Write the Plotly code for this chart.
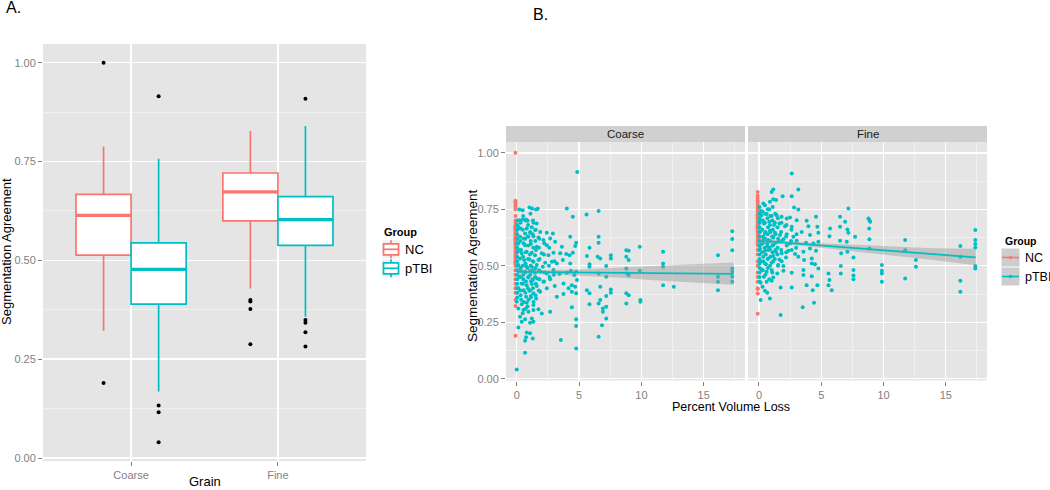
import plotly.graph_objects as go

W, H = 1050, 490

# ---------------- Panel A data (box statistics) ----------------
grains = ["Coarse", "Fine"]
groups = ["NC", "pTBI"]
colors = {"NC": "#F8766D", "pTBI": "#00BFC4"}
box_q1 = {"NC": [0.513, 0.600], "pTBI": [0.389, 0.538]}
box_med = {"NC": [0.614, 0.673], "pTBI": [0.477, 0.603]}
box_q3 = {"NC": [0.667, 0.721], "pTBI": [0.544, 0.661]}
box_lo = {"NC": [0.322, 0.429], "pTBI": [0.168, 0.357]}
box_hi = {"NC": [0.788, 0.827], "pTBI": [0.757, 0.840]}
box_out = {
    "NC": [[1.00, 0.19], [0.400, 0.396, 0.377, 0.288]],
    "pTBI": [[0.915, 0.133, 0.116, 0.040], [0.909, 0.349, 0.342, 0.318, 0.282]],
}
y_ticks = [0.0, 0.25, 0.5, 0.75, 1.0]
y_ticklabels = ["0.00", "0.25", "0.50", "0.75", "1.00"]

# ---------------- Panel B data ----------------
nc_x = -0.1
nc_coarse_y = [1.00, 0.788, 0.78, 0.77, 0.76, 0.75, 0.72, 0.70, 0.69, 0.68, 0.675, 0.67,
               0.667, 0.665, 0.66, 0.655, 0.65, 0.645, 0.64, 0.63, 0.625, 0.62, 0.615,
               0.614, 0.61, 0.60, 0.59, 0.58, 0.57, 0.56, 0.55, 0.54, 0.53, 0.52, 0.515,
               0.51, 0.50, 0.48, 0.46, 0.44, 0.42, 0.40, 0.38, 0.35, 0.322, 0.19]
nc_fine_y = [0.827, 0.81, 0.80, 0.79, 0.78, 0.77, 0.76, 0.75, 0.74, 0.73, 0.725, 0.721,
             0.72, 0.715, 0.71, 0.70, 0.695, 0.69, 0.685, 0.68, 0.675, 0.673, 0.67, 0.665,
             0.66, 0.655, 0.65, 0.64, 0.63, 0.62, 0.61, 0.605, 0.60, 0.59, 0.57, 0.55,
             0.52, 0.50, 0.47, 0.45, 0.429, 0.40, 0.397, 0.377, 0.288]

coarse_pts = [
    (4.85, 0.915),
    (4.02, 0.754), (6.57, 0.743), (5.6, 0.727), (4.5, 0.717),
    (0.21, 0.749), (0.48, 0.746), (1.02, 0.758), (1.23, 0.754), (1.55, 0.749), (1.69, 0.752),
    (0.48, 0.705), (0.75, 0.705), (0.88, 0.699), (0.21, 0.702), (1.34, 0.69), (1.6, 0.687),
    (0.13, 0.673), (0.32, 0.665), (0.8, 0.665), (1.21, 0.67), (0.67, 0.643), (1.07, 0.646),
    (1.47, 0.658), (1.88, 0.65), (2.41, 0.646), (2.9, 0.643), (17.29, 0.653), (17.29, 0.618),
    (6.57, 0.628),
    (0.27, 0.628), (0.54, 0.621), (0.94, 0.628), (1.34, 0.631), (1.74, 0.625), (2.14, 0.614),
    (2.68, 0.621), (3.08, 0.606), (4.29, 0.628), (4.77, 0.602), (4.69, 0.587), (0.13, 0.599),
    (0.67, 0.591), (1.13, 0.596), (1.61, 0.584), (2.41, 0.591), (3.62, 0.584), (5.84, 0.58),
    (6.57, 0.602), (9.87, 0.584), (8.79, 0.569), (8.98, 0.566), (17.29, 0.569),
    (0.21, 0.569), (0.4, 0.555), (0.8, 0.562), (1.21, 0.558), (1.47, 0.547), (2.01, 0.555),
    (2.55, 0.547), (2.95, 0.558), (3.49, 0.555), (3.97, 0.552), (4.24, 0.547), (4.5, 0.558),
    (5.63, 0.543), (6.49, 0.54), (6.7, 0.532), (7.55, 0.547), (7.55, 0.532), (8.79, 0.54),
    (8.98, 0.525), (11.74, 0.562), (16.14, 0.547), (0.27, 0.532), (0.59, 0.525), (1.02, 0.528),
    (1.34, 0.518), (1.74, 0.525), (2.28, 0.513), (2.82, 0.518), (3.22, 0.51), (3.7, 0.525),
    (4.29, 0.51), (5.84, 0.507), (5.84, 0.496), (7.18, 0.499), (11.74, 0.51), (11.74, 0.496),
    (0.13, 0.503), (0.75, 0.499), (1.21, 0.496), (1.61, 0.503), (2.09, 0.496),
    (0.32, 0.481), (0.67, 0.473), (1.07, 0.478), (1.47, 0.469), (1.93, 0.473), (2.41, 0.466),
    (2.95, 0.481), (3.43, 0.463), (4.02, 0.469), (4.34, 0.478), (4.61, 0.459), (4.77, 0.473),
    (6.57, 0.466), (7.18, 0.451), (8.79, 0.488), (8.85, 0.466), (8.98, 0.459), (9.87, 0.478),
    (17.29, 0.488), (17.29, 0.473), (17.29, 0.451), (16.14, 0.451), (16.14, 0.429),
    (17.29, 0.429), (0.21, 0.451), (0.54, 0.44), (0.94, 0.448), (1.29, 0.437), (1.64, 0.444),
    (2.14, 0.429), (2.68, 0.44), (0.4, 0.422), (0.8, 0.414), (1.21, 0.419), (1.61, 0.41),
    (3.75, 0.422), (4.42, 0.414), (4.83, 0.437), (11.74, 0.414), (12.6, 0.407),
    (0.13, 0.4), (0.54, 0.392), (1.02, 0.389), (1.34, 0.378), (1.88, 0.385), (2.41, 0.4),
    (4.16, 0.4), (4.42, 0.385), (4.69, 0.407), (5.63, 0.392), (6.7, 0.407), (7.55, 0.395),
    (7.55, 0.381), (16.14, 0.392), (0.32, 0.37), (0.75, 0.363), (1.13, 0.366), (1.56, 0.355),
    (3.22, 0.363), (3.75, 0.375), (4.77, 0.378), (5.84, 0.378), (7.18, 0.366), (6.7, 0.348),
    (8.79, 0.378), (8.98, 0.37), (9.92, 0.348), (9.92, 0.341), (0.0, 0.341), (0.4, 0.33),
    (0.8, 0.336), (1.34, 0.326), (5.84, 0.33), (6.57, 0.333), (7.18, 0.319), (8.79, 0.333),
    (4.42, 0.316), (2.68, 0.296),
    (0.13, 0.311), (0.54, 0.304), (0.94, 0.296), (1.34, 0.304), (1.74, 0.307), (2.01, 0.289),
    (0.27, 0.274), (0.67, 0.263), (1.21, 0.267), (6.91, 0.311), (6.91, 0.296), (7.18, 0.267),
    (4.77, 0.263), (0.4, 0.252), (1.07, 0.248), (1.34, 0.252), (6.84, 0.237), (4.77, 0.233),
    (0.13, 0.227), (0.8, 0.204), (1.07, 0.201), (0.75, 0.183), (1.29, 0.178), (0.67, 0.168),
    (3.54, 0.171), (6.57, 0.186), (4.77, 0.134), (0.67, 0.115), (0.0, 0.041),
    (0.04, 0.70), (0.04, 0.68), (0.04, 0.66), (0.04, 0.64), (0.04, 0.62), (0.04, 0.60),
    (0.04, 0.58), (0.04, 0.56), (0.04, 0.54), (0.04, 0.52), (0.04, 0.50), (0.04, 0.48),
    (0.04, 0.46), (0.04, 0.44), (0.04, 0.42), (0.04, 0.40), (0.04, 0.38), (0.04, 0.36),
    (0.31, 0.69), (0.28, 0.61), (0.35, 0.57), (0.30, 0.49), (0.33, 0.45), (0.29, 0.39), (0.36, 0.35),
    (0.52, 0.72), (0.49, 0.66), (0.55, 0.60), (0.51, 0.54), (0.47, 0.50), (0.53, 0.46),
    (0.50, 0.42), (0.56, 0.34), (0.48, 0.29),
    (0.71, 0.70), (0.68, 0.62), (0.73, 0.56), (0.70, 0.51), (0.66, 0.47), (0.74, 0.43),
    (0.69, 0.38), (0.72, 0.31),
    (0.91, 0.68), (0.88, 0.63), (0.93, 0.59), (0.90, 0.53), (0.86, 0.49), (0.92, 0.45),
    (0.89, 0.40), (0.95, 0.35), (0.87, 0.32),
    (1.10, 0.73), (1.08, 0.65), (1.12, 0.61), (1.06, 0.55), (1.11, 0.50), (1.09, 0.46),
    (1.14, 0.43), (1.07, 0.39), (1.13, 0.36),
    (1.31, 0.70), (1.28, 0.64), (1.33, 0.58), (1.29, 0.52), (1.32, 0.48), (1.27, 0.44),
    (1.30, 0.40), (1.35, 0.34),
    (1.52, 0.66), (1.49, 0.61), (1.54, 0.57), (1.50, 0.49), (1.48, 0.45), (1.53, 0.42), (1.51, 0.37),
    (1.81, 0.62), (1.78, 0.58), (1.83, 0.53), (1.79, 0.48), (1.82, 0.44), (1.77, 0.39),
    (2.21, 0.60), (2.18, 0.55), (2.23, 0.47), (2.19, 0.43),
    (2.61, 0.58), (2.58, 0.50), (2.63, 0.45),
    (3.02, 0.52), (2.98, 0.46), (3.05, 0.41),
]

fine_pts = [
    (2.63, 0.909),
    (3.16, 0.838), (1.15, 0.838), (1.02, 0.827), (1.9, 0.808), (2.63, 0.808), (1.15, 0.794),
    (1.37, 0.791), (0.88, 0.783), (0.35, 0.776), (0.48, 0.768), (2.82, 0.758), (3.16, 0.749),
    (7.18, 0.754), (0.83, 0.749), (0.16, 0.743),
    (0.21, 0.724), (0.62, 0.729), (1.02, 0.72), (1.42, 0.724), (1.82, 0.717), (2.23, 0.709),
    (2.49, 0.714), (3.03, 0.702), (3.83, 0.699), (4.58, 0.717), (6.51, 0.717), (8.79, 0.709),
    (8.87, 0.702), (8.93, 0.695), (6.92, 0.695), (0.08, 0.702), (0.4, 0.687), (0.83, 0.695),
    (1.21, 0.68), (1.64, 0.687), (2.09, 0.675), (2.63, 0.673), (3.97, 0.675), (4.69, 0.673),
    (5.71, 0.665), (6.51, 0.673), (7.1, 0.661), (8.85, 0.665), (17.37, 0.658),
    (0.08, 0.65), (0.48, 0.643), (0.88, 0.655), (1.29, 0.646), (1.69, 0.636), (2.23, 0.64),
    (2.76, 0.628), (3.43, 0.65), (4.1, 0.636), (4.77, 0.646), (5.66, 0.631), (7.18, 0.646),
    (7.72, 0.628), (0.35, 0.621), (0.75, 0.614), (1.15, 0.625), (1.55, 0.606), (1.96, 0.617),
    (2.49, 0.599), (3.03, 0.611), (3.78, 0.602), (4.37, 0.599), (4.77, 0.606), (6.51, 0.611),
    (7.05, 0.606), (8.87, 0.617), (11.74, 0.614), (17.37, 0.614), (0.21, 0.596), (0.67, 0.587),
    (1.1, 0.591), (16.17, 0.587), (17.37, 0.596), (17.37, 0.581),
    (0.08, 0.577), (0.48, 0.566), (0.88, 0.572), (1.37, 0.562), (1.82, 0.555), (2.36, 0.566),
    (2.9, 0.552), (3.57, 0.562), (4.1, 0.577), (4.58, 0.566), (6.6, 0.555), (7.1, 0.562),
    (8.87, 0.577), (11.74, 0.569), (0.35, 0.54), (0.75, 0.532), (1.15, 0.543), (1.64, 0.528),
    (2.17, 0.537), (3.16, 0.54), (3.62, 0.525), (4.24, 0.532), (7.59, 0.537), (16.17, 0.54),
    (0.13, 0.518), (0.56, 0.507), (1.02, 0.513), (1.55, 0.503), (1.96, 0.499), (4.24, 0.51),
    (4.5, 0.507), (12.6, 0.525), (12.6, 0.496), (17.37, 0.499), (17.37, 0.488), (9.87, 0.503),
    (6.57, 0.499),
    (0.21, 0.484), (0.62, 0.473), (1.02, 0.481), (1.47, 0.466), (1.96, 0.478), (2.63, 0.469),
    (3.57, 0.481), (4.77, 0.488), (5.58, 0.466), (6.57, 0.466), (7.59, 0.481), (7.59, 0.457),
    (9.87, 0.478), (9.87, 0.466), (0.4, 0.451), (0.83, 0.44), (1.15, 0.448), (3.57, 0.459),
    (4.24, 0.454), (5.66, 0.437), (7.59, 0.44), (9.87, 0.429), (11.74, 0.444), (0.13, 0.425),
    (0.62, 0.429), (1.02, 0.434), (0.29, 0.407), (0.48, 0.389), (0.67, 0.381), (0.88, 0.355),
    (0.13, 0.348), (1.74, 0.404), (2.63, 0.404), (3.83, 0.414), (4.69, 0.414), (4.32, 0.392),
    (5.58, 0.414), (5.84, 0.392), (4.42, 0.336), (3.51, 0.316), (1.74, 0.282), (16.17, 0.434),
    (16.17, 0.385),
    (0.05, 0.76), (0.05, 0.73), (0.05, 0.71), (0.05, 0.69), (0.05, 0.67), (0.05, 0.65),
    (0.05, 0.63), (0.05, 0.61), (0.05, 0.59), (0.05, 0.57), (0.05, 0.55), (0.05, 0.53),
    (0.05, 0.51), (0.05, 0.49), (0.05, 0.47), (0.05, 0.45), (0.05, 0.43),
    (0.29, 0.74), (0.32, 0.70), (0.27, 0.66), (0.34, 0.63), (0.30, 0.60), (0.26, 0.56),
    (0.33, 0.52), (0.31, 0.48),
    (0.51, 0.73), (0.48, 0.69), (0.53, 0.65), (0.50, 0.62), (0.46, 0.58), (0.55, 0.55),
    (0.49, 0.51), (0.52, 0.46),
    (0.71, 0.75), (0.68, 0.71), (0.73, 0.67), (0.70, 0.64), (0.66, 0.60), (0.74, 0.57),
    (0.69, 0.53), (0.72, 0.49),
    (0.91, 0.72), (0.88, 0.68), (0.93, 0.65), (0.90, 0.61), (0.86, 0.58), (0.92, 0.54), (0.89, 0.50),
    (1.10, 0.76), (1.08, 0.70), (1.12, 0.66), (1.06, 0.63), (1.11, 0.59), (1.09, 0.56),
    (1.14, 0.52), (1.07, 0.47),
    (1.31, 0.73), (1.28, 0.69), (1.33, 0.64), (1.29, 0.60), (1.32, 0.57), (1.27, 0.53),
    (1.52, 0.71), (1.49, 0.67), (1.54, 0.62), (1.50, 0.58), (1.48, 0.55), (1.53, 0.50),
    (1.81, 0.69), (1.78, 0.65), (1.83, 0.61), (1.79, 0.57), (1.82, 0.52),
    (2.21, 0.68), (2.18, 0.63), (2.23, 0.59), (2.19, 0.56),
    (2.61, 0.66), (2.58, 0.61), (2.63, 0.57),
    (3.02, 0.64), (2.98, 0.58),
]

# linear fits with 95% bands
smooth_x = [0, 2, 5, 8, 11, 14, 17.4]
coarse_fit = [0.473, 0.472, 0.4705, 0.469, 0.4675, 0.466, 0.464]
coarse_lo = [0.460, 0.463, 0.457, 0.448, 0.436, 0.426, 0.416]
coarse_hi = [0.486, 0.481, 0.484, 0.490, 0.499, 0.507, 0.514]
fine_fit = [0.611, 0.6025, 0.590, 0.577, 0.564, 0.5515, 0.537]
fine_lo = [0.599, 0.595, 0.580, 0.562, 0.544, 0.525, 0.502]
fine_hi = [0.623, 0.610, 0.600, 0.592, 0.584, 0.578, 0.575]
x_ticks_b = [0, 5, 10, 15]

# ---------------- helpers ----------------
def fx(px):
    return px / W


def fy(py):
    return 1 - py / H


GREY_TXT = "#7F7F7F"
FONT = "Liberation Sans, Arial, sans-serif"
fig = go.Figure()

# ---------------- Panel A ----------------
cat_pos = list(range(len(grains)))
dodge = {"NC": -0.1875, "pTBI": 0.1875}
half_w = 0.1875
for g in groups:
    pos = [c + dodge[g] for c in cat_pos]
    fig.add_trace(go.Box(
        x=pos, q1=box_q1[g], median=box_med[g], q3=box_q3[g],
        lowerfence=box_lo[g], upperfence=box_hi[g],
        width=0.375, fillcolor="white", line=dict(color=colors[g], width=1.7),
        whiskerwidth=0, boxpoints=False, showlegend=False, hoverinfo="skip",
        xaxis="x", yaxis="y"))
    mx, my = [], []
    for p, m in zip(pos, box_med[g]):
        mx += [p - half_w, p + half_w, None]
        my += [m, m, None]
    fig.add_trace(go.Scatter(x=mx, y=my, mode="lines", line=dict(color=colors[g], width=3.2),
                             showlegend=False, hoverinfo="skip", xaxis="x", yaxis="y"))
    ox, oy = [], []
    for p, outs in zip(pos, box_out[g]):
        ox += [p] * len(outs)
        oy += outs
    fig.add_trace(go.Scatter(x=ox, y=oy, mode="markers", marker=dict(color="black", size=4),
                             showlegend=False, hoverinfo="skip", xaxis="x", yaxis="y"))

# ---------------- Panel B ----------------
panels = [
    ("x2", "y2", coarse_pts, nc_coarse_y, coarse_fit, coarse_lo, coarse_hi),
    ("x3", "y3", fine_pts, nc_fine_y, fine_fit, fine_lo, fine_hi),
]
for xa, ya, pts, ncy, fit, lo, hi in panels:
    fig.add_trace(go.Scatter(x=[nc_x] * len(ncy), y=ncy, mode="markers",
                             marker=dict(color=colors["NC"], size=4),
                             showlegend=False, hoverinfo="skip", xaxis=xa, yaxis=ya))
    fig.add_trace(go.Scatter(x=[p[0] for p in pts], y=[p[1] for p in pts], mode="markers",
                             marker=dict(color=colors["pTBI"], size=4),
                             showlegend=False, hoverinfo="skip", xaxis=xa, yaxis=ya))
    fig.add_trace(go.Scatter(x=smooth_x + smooth_x[::-1], y=hi + lo[::-1], fill="toself",
                             fillcolor="rgba(153,153,153,0.45)", line=dict(width=0),
                             mode="lines", showlegend=False, hoverinfo="skip", xaxis=xa, yaxis=ya))
    fig.add_trace(go.Scatter(x=smooth_x, y=fit, mode="lines",
                             line=dict(color=colors["pTBI"], width=1.8),
                             showlegend=False, hoverinfo="skip", xaxis=xa, yaxis=ya))

# ---------------- axes ----------------
common = dict(showline=False, zeroline=False, ticks="outside", ticklen=4, tickwidth=1,
              tickcolor=GREY_TXT, showgrid=True, gridcolor="white", gridwidth=1.4,
              tickfont=dict(family=FONT, size=11, color=GREY_TXT), fixedrange=True)
minor_y = dict(tickvals=[0.125, 0.375, 0.625, 0.875], showgrid=True, gridcolor="#F2F2F2",
               gridwidth=0.8, ticks="")
minor_xb = dict(tickvals=[2.5, 7.5, 12.5, 17.5], showgrid=True, gridcolor="#F2F2F2",
                gridwidth=0.8, ticks="")

layout_axes = dict(
    xaxis=dict(domain=[fx(43), fx(366)], range=[-0.6, 1.6], anchor="y",
               tickvals=cat_pos, ticktext=grains, **common),
    yaxis=dict(domain=[fy(461), fy(44)], range=[-0.0076, 1.0473], anchor="x",
               tickvals=y_ticks, ticktext=y_ticklabels, minor=minor_y, **common),
    xaxis2=dict(domain=[fx(506), fx(745)], range=[-0.86, 18.31], anchor="y2",
                tickvals=x_ticks_b, minor=minor_xb, **common),
    yaxis2=dict(domain=[fy(380.5), fy(142)], range=[-0.008, 1.048], anchor="x2",
                tickvals=y_ticks, ticktext=y_ticklabels, minor=minor_y, **common),
    xaxis3=dict(domain=[fx(748), fx(987)], range=[-0.88, 18.31], anchor="y3",
                tickvals=x_ticks_b, minor=minor_xb, **common),
    yaxis3=dict(domain=[fy(380.5), fy(142)], range=[-0.008, 1.048], anchor="x3",
                tickvals=y_ticks, minor=minor_y,
                **{**common, "ticks": "", "showticklabels": False}),
)

# ---------------- shapes (strips + manual legends) ----------------
shapes = []
for x0, x1 in [(506, 745), (748, 987)]:
    shapes.append(dict(type="rect", xref="paper", yref="paper", x0=fx(x0), x1=fx(x1),
                       y0=fy(142), y1=fy(126), fillcolor="#D0D0D0", line=dict(width=0),
                       layer="below"))

# legend A (box keys)
for g, cy in [("NC", 249.3), ("pTBI", 268.3)]:
    shapes.append(dict(type="rect", xref="paper", yref="paper", x0=fx(382), x1=fx(400),
                       y0=fy(cy + 9), y1=fy(cy - 9), fillcolor="#F2F2F2", line=dict(width=0)))
    shapes.append(dict(type="line", xref="paper", yref="paper", x0=fx(391), x1=fx(391),
                       y0=fy(cy + 9), y1=fy(cy - 9), line=dict(color=colors[g], width=1.7)))
    shapes.append(dict(type="rect", xref="paper", yref="paper", x0=fx(383.5), x1=fx(398.5),
                       y0=fy(cy + 5.5), y1=fy(cy - 5.5), fillcolor="white",
                       line=dict(color=colors[g], width=1.7)))
    shapes.append(dict(type="line", xref="paper", yref="paper", x0=fx(383.5), x1=fx(398.5),
                       y0=fy(cy), y1=fy(cy), line=dict(color=colors[g], width=1.7)))

# legend B (smooth keys)
for g, cy in [("NC", 257.5), ("pTBI", 276.5)]:
    shapes.append(dict(type="rect", xref="paper", yref="paper", x0=fx(1001.5), x1=fx(1019.5),
                       y0=fy(cy + 9), y1=fy(cy - 9), fillcolor="#CDCDCD", line=dict(width=0)))
    shapes.append(dict(type="line", xref="paper", yref="paper", x0=fx(1002), x1=fx(1019),
                       y0=fy(cy), y1=fy(cy), line=dict(color=colors[g], width=1.6)))
    shapes.append(dict(type="circle", xref="paper", yref="paper", x0=fx(1008.8), x1=fx(1012.2),
                       y0=fy(cy + 1.7), y1=fy(cy - 1.7), fillcolor=colors[g],
                       line=dict(width=0)))

# ---------------- annotations ----------------
def ann(text, x, y, size, color="black", xanchor="center", yanchor="middle", angle=0, bold=False):
    return dict(text=f"<b>{text}</b>" if bold else text, x=fx(x), y=fy(y), xref="paper",
                yref="paper", xanchor=xanchor, yanchor=yanchor, showarrow=False,
                textangle=angle, font=dict(family=FONT, size=size, color=color))


annotations = [
    ann("A.", 4, 8, 16, xanchor="left"),
    ann("B.", 531, 14, 16, xanchor="left"),
    ann("Segmentation Agreement", 7, 252, 13, angle=-90),
    ann("Grain", 204.5, 481.5, 13),
    ann("Segmentation Agreement", 472, 266, 13.5, angle=-90),
    ann("Percent Volume Loss", 731, 407, 12.5),
    ann("Coarse", 625.5, 134, 11.5, color="#1A1A1A"),
    ann("Fine", 867.5, 134, 11.5, color="#1A1A1A"),
    ann("Group", 382, 231.5, 11, xanchor="left", bold=True),
    ann("NC", 402.5, 249.3, 13, xanchor="left"),
    ann("pTBI", 402.5, 268.3, 13, xanchor="left"),
    ann("Group", 1002.5, 240.7, 10.5, xanchor="left", bold=True),
    ann("NC", 1022.5, 258, 12.5, xanchor="left"),
    ann("pTBI", 1022.5, 277, 12.5, xanchor="left"),
]

fig.update_layout(
    width=W, height=H, template="none",
    margin=dict(l=0, r=0, t=0, b=0, pad=0, autoexpand=False),
    paper_bgcolor="white", plot_bgcolor="#E5E5E5",
    showlegend=False, boxmode="overlay",
    shapes=shapes, annotations=annotations,
    font=dict(family=FONT),
    **layout_axes,
)

# remove the default page margin so the 1050x490 figure fills the window exactly
fig.write_html("out.html", config={"displayModeBar": False, "staticPlot": True},
               post_script="document.body.style.margin='0';document.body.style.padding='0';")
